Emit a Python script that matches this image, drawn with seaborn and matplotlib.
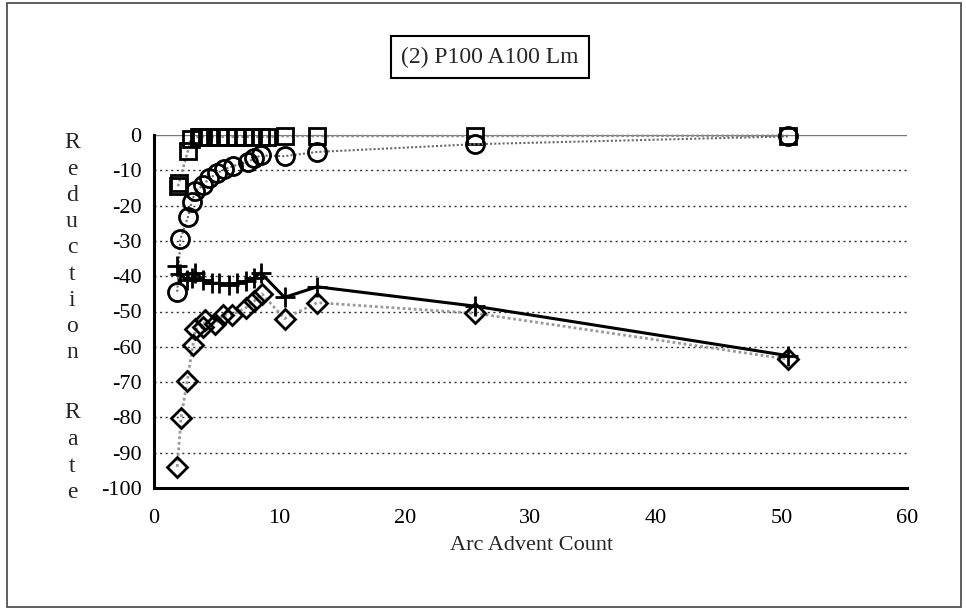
import matplotlib
matplotlib.use("Agg")
import matplotlib.pyplot as plt
import seaborn as sns
import pandas as pd
from matplotlib.patches import Rectangle

# series
sq_x = [1.9, 2.0, 2.7, 2.95, 3.6, 3.75, 4.4, 5.2, 5.85, 6.5, 7.2, 7.85, 8.5, 9.0, 10.45, 13.0, 25.6, 50.5]
sq_y = [-14.5, -13.5, -4.5, -1.0, -0.5, -0.5, -0.5, -0.5, -0.5, -0.5, -0.5, -0.5, -0.5, -0.5, -0.3, -0.3, -0.3, -0.2]

ci_x = [1.85, 2.1, 2.7, 3.0, 3.3, 3.9, 4.4, 5.0, 5.6, 6.3, 7.5, 8.0, 8.5, 10.4, 13.0, 25.6, 50.5]
ci_y = [-44.4, -29.5, -23.3, -19.0, -16.0, -14.2, -12.3, -10.9, -9.7, -8.8, -7.6, -6.6, -5.8, -6.0, -4.8, -2.6, -0.4]

cr_x = [1.85, 2.1, 2.6, 3.0, 3.3, 3.9, 4.6, 5.2, 6.0, 6.6, 7.3, 8.0, 8.5, 10.4, 13.0, 25.6, 50.5]
cr_y = [-37.0, -39.5, -41.0, -40.5, -39.0, -41.0, -42.0, -42.0, -42.5, -42.0, -41.5, -40.5, -39.0, -46.0, -43.0, -48.5, -62.5]

di_x = [1.85, 2.15, 2.65, 3.1, 3.3, 3.9, 4.1, 4.9, 5.5, 6.2, 7.3, 8.0, 8.6, 10.4, 13.0, 25.6, 50.5]
di_y = [-94.0, -80.3, -69.6, -59.5, -55.0, -54.5, -52.5, -53.5, -51.0, -51.0, -49.0, -47.0, -45.0, -52.0, -47.5, -50.5, -63.5]

x_ticks = [0, 10, 20, 30, 40, 50, 60]
y_ticks = [0, -10, -20, -30, -40, -50, -60, -70, -80, -90, -100]

title = "(2) P100 A100 Lm"
x_label = "Arc Advent Count"
y_words = ["Reduction", "Rate"]

sns.set_style("white")
plt.rcParams['font.family'] = ['Liberation Serif', 'DejaVu Serif']
plt.rcParams['axes.unicode_minus'] = False
fs = 16

fig = plt.figure(figsize=(9.66, 6.10), dpi=100)
W, H = 966, 610
ax = fig.add_axes([154 / W, (H - 488) / H, (907 - 154) / W, (488 - 135) / H])

# gridlines first, behind the data
for v in y_ticks:
    if v == 0:
        ax.axhline(v, color='#777777', lw=1.0, zorder=0)
    elif v != -100:
        ax.axhline(v, color='#333333', lw=1.0, ls=(0, (1.5, 2.5)), zorder=0)

series = [
    (sq_x, sq_y, 's', '#8c8c8c', 1.8, (0, (1, 1)), 12),
    (ci_x, ci_y, 'o', '#6a6a6a', 1.5, (0, (1, 1)), 13),
    (di_x, di_y, 'D', '#9a9a9a', 2.0, (0, (1, 1)), 10),
    (cr_x, cr_y, '+', 'black', 2.2, '-', 15),
]
for xs, ys, mk, lc, lw, ls, ms in series:
    df = pd.DataFrame({'x': xs, 'y': ys})
    sns.lineplot(data=df, x='x', y='y', ax=ax, sort=False, estimator=None,
                 color=lc, lw=lw, ls=ls, marker=mk, markersize=ms,
                 markerfacecolor='none' if mk != '+' else 'black',
                 markeredgecolor='black', markeredgewidth=2.0,
                 clip_on=False, zorder=3)

ax.set_xlim(0, 60)
ax.set_ylim(-100, 0)
ax.set_xticks(x_ticks)
ax.set_yticks(y_ticks)
ax.set_xlabel('')
ax.set_ylabel('')
ax.tick_params(axis='both', direction='out', length=6, width=1.0, colors='black',
               labelsize=fs)
ax.tick_params(axis='x', pad=9)
ax.tick_params(axis='y', pad=3)
for s in ['top', 'right']:
    ax.spines[s].set_visible(False)
for s in ['left', 'bottom']:
    ax.spines[s].set_linewidth(2.2)
    ax.spines[s].set_color('black')
    ax.spines[s].set_zorder(4)

fig.text(532 / W, 1 - 545 / H, x_label, ha='center', va='center', fontsize=fs)

# stacked vertical y label, one letter per line
for word, ytop, ystep in zip(y_words, [143, 413], [26.2, 26.6]):
    for i, ch in enumerate(word):
        fig.text(72 / W, 1 - (ytop + i * ystep) / H, ch, ha='center', va='center',
                 fontsize=fs + 1)

fig.text(490 / W, 1 - 57 / H, title, ha='center', va='center', fontsize=fs + 1,
         bbox=dict(boxstyle='square,pad=0.45', fc='white', ec='black', lw=1.5))

fig.patches.append(Rectangle((7 / W, 3 / H), (961 - 7) / W, (607 - 3) / H,
                             transform=fig.transFigure, fill=False, ec='#444444', lw=1.2))

fig.savefig('out.png', dpi=100)
